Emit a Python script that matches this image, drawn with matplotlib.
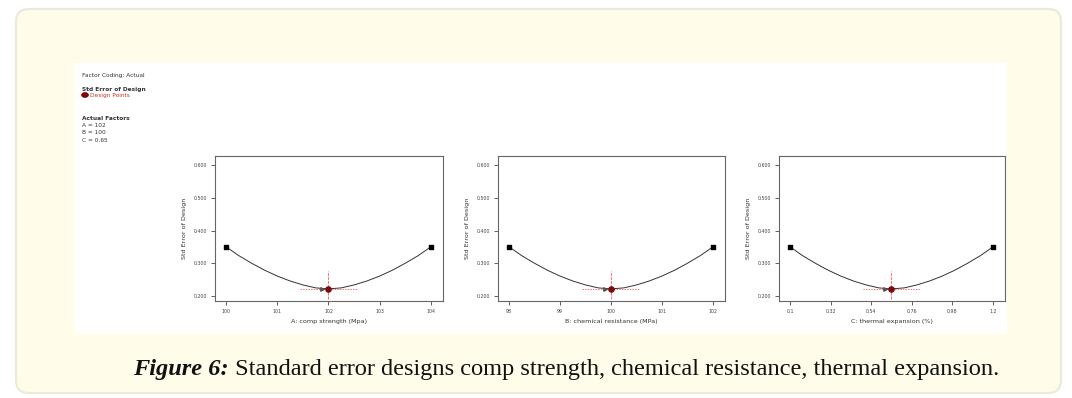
import matplotlib
matplotlib.use("Agg")
import matplotlib.pyplot as plt
from matplotlib.patches import FancyBboxPatch, Rectangle, Ellipse
import numpy as np

# ---------------- data ----------------
coded_levels = [-1.0, -0.875, -0.75, -0.625, -0.5, -0.375, -0.25, -0.125, 0.0,
                0.125, 0.25, 0.375, 0.5, 0.625, 0.75, 0.875, 1.0]
std_error = [0.350, 0.323, 0.300, 0.279, 0.261, 0.246, 0.234, 0.225, 0.222,
             0.225, 0.234, 0.246, 0.261, 0.279, 0.300, 0.323, 0.350]
design_se_ends = [0.350, 0.350]
design_se_center = 0.222

factor_names = ["A: comp strength (Mpa)", "B: chemical resistance (MPa)", "C: thermal expansion (%)"]
factor_low = [100.0, 98.0, 0.1]
factor_high = [104.0, 102.0, 1.2]
factor_actual = [102.0, 100.0, 0.65]
xtick_values = [[100, 101, 102, 103, 104], [98, 99, 100, 101, 102], [0.1, 0.32, 0.54, 0.76, 0.98, 1.2]]
xtick_labels = [["100", "101", "102", "103", "104"], ["98", "99", "100", "101", "102"],
                ["0.1", "0.32", "0.54", "0.76", "0.98", "1.2"]]
ytick_values = [0.2, 0.3, 0.4, 0.5, 0.6]
ytick_labels = ["0.200", "0.300", "0.400", "0.500", "0.600"]
ci_band_coded = [-0.28, 0.28]
vline_range = [0.192, 0.278]
arrow_coded = -0.06

legend_lines = ["Factor Coding: Actual", "Std Error of Design", "Design Points",
                "Actual Factors", "A = 102", "B = 100", "C = 0.65"]
caption_bold = "Figure 6:"
caption_rest = " Standard error designs comp strength, chemical resistance, thermal expansion."

# ---------------- figure ----------------
W, H = 1072, 398
fig = plt.figure(figsize=(W / 100, H / 100), dpi=100)
fig.patch.set_facecolor("white")

def fx(px):
    return px / W

def fy(py):
    return 1 - py / H

card = FancyBboxPatch((fx(16), fy(393)), fx(1061) - fx(16), fy(9) - fy(393),
                      boxstyle="round,pad=0,rounding_size=0.012",
                      transform=fig.transFigure, facecolor="#FFFCE9",
                      edgecolor="#EEEADB", linewidth=1.6, zorder=-3,
                      mutation_aspect=W / H)
fig.patches.append(card)
white = Rectangle((fx(75), fy(333)), fx(1007) - fx(75), fy(63) - fy(333),
                  transform=fig.transFigure, facecolor="white", edgecolor="none", zorder=-2)
fig.patches.append(white)

# left legend text block
tc = "#333333"
fig.text(fx(82), fy(75), legend_lines[0], fontsize=4.2, color=tc, va="center", ha="left")
fig.text(fx(82), fy(89), legend_lines[1], fontsize=4.2, color=tc, va="center", ha="left", fontweight="bold")
fig.text(fx(90), fy(95), legend_lines[2], fontsize=4.2, color="#C0392B", va="center", ha="left")
fig.add_artist(Ellipse((fx(85), fy(95)), fx(7), 5.0 / H,
                       transform=fig.transFigure, facecolor="#8B0000",
                       edgecolor="#5a0000", lw=0.4))
fig.text(fx(82), fy(118), legend_lines[3], fontsize=4.2, color=tc, va="center", ha="left", fontweight="bold")
fig.text(fx(82), fy(126), legend_lines[4], fontsize=4.2, color=tc, va="center", ha="left")
fig.text(fx(82), fy(133), legend_lines[5], fontsize=4.2, color=tc, va="center", ha="left")
fig.text(fx(82), fy(140), legend_lines[6], fontsize=4.2, color=tc, va="center", ha="left")

axes_left_px = [215, 498, 779]
axes_width_px = [228, 227, 226]
top_px, bot_px = 156, 301

for i in range(3):
    ax = fig.add_axes([fx(axes_left_px[i]), fy(bot_px), axes_width_px[i] / W, (bot_px - top_px) / H])
    ax.set_facecolor("white")
    lo, hi = factor_low[i], factor_high[i]
    mid = (lo + hi) / 2
    half = (hi - lo) / 2
    xs = [mid + c * half for c in coded_levels]
    ax.plot(xs, std_error, color="#333333", lw=0.7, zorder=3)
    ax.scatter([lo, hi], design_se_ends, marker="s", s=11, color="black", zorder=5)
    ax.plot([mid + ci_band_coded[0] * half, mid + ci_band_coded[1] * half],
            [design_se_center, design_se_center], color="#EE7777", lw=0.7, ls=(0, (1.5, 1.2)), zorder=4)
    ax.plot([factor_actual[i], factor_actual[i]], vline_range, color="#EE7777", lw=0.7,
            ls=(0, (3, 1)), zorder=4)
    ax.scatter([mid + arrow_coded * half], [design_se_center + 0.001], marker=">", s=6,
               color="#555555", zorder=5)
    ax.scatter([factor_actual[i]], [design_se_center], marker="o", s=14, color="#7A0A0A", zorder=6)
    rng = hi - lo
    ax.set_xlim(lo - 0.055 * rng, hi + 0.06 * rng)
    ax.set_ylim(0.185, 0.6275)
    ax.set_xticks(xtick_values[i])
    ax.set_xticklabels(xtick_labels[i])
    ax.set_yticks(ytick_values)
    ax.set_yticklabels(ytick_labels)
    ax.tick_params(labelsize=3.4, length=3, width=0.6, pad=2.5, colors="#444444", labelcolor="#444444")
    for s in ax.spines.values():
        s.set_color("#666666")
        s.set_linewidth(0.8)
    ax.set_xlabel(factor_names[i], fontsize=4.6, color="#333333", labelpad=4)
    ax.set_ylabel("Std Error of Design", fontsize=4.6, color="#333333", labelpad=5)

# caption
target_left, target_right, base_y = 133, 998, 375
fs = 16.0
renderer = fig.canvas.get_renderer()
for _ in range(2):
    t1 = fig.text(0, 0, caption_bold, fontsize=fs, fontfamily="Liberation Serif",
                  fontweight="bold", fontstyle="italic")
    t2 = fig.text(0, 0, caption_rest, fontsize=fs, fontfamily="Liberation Serif")
    w = t1.get_window_extent(renderer).width + t2.get_window_extent(renderer).width
    t1.remove(); t2.remove()
    fs = fs * (target_right - target_left) / w
t1 = fig.text(fx(target_left), fy(base_y), caption_bold, fontsize=fs, fontfamily="Liberation Serif",
              fontweight="bold", fontstyle="italic", va="baseline", ha="left", color="#111111")
w1 = t1.get_window_extent(renderer).width
fig.text(fx(target_left + w1), fy(base_y), caption_rest, fontsize=fs, fontfamily="Liberation Serif",
         va="baseline", ha="left", color="#111111")

fig.savefig("out.png", dpi=100, facecolor=fig.get_facecolor())
